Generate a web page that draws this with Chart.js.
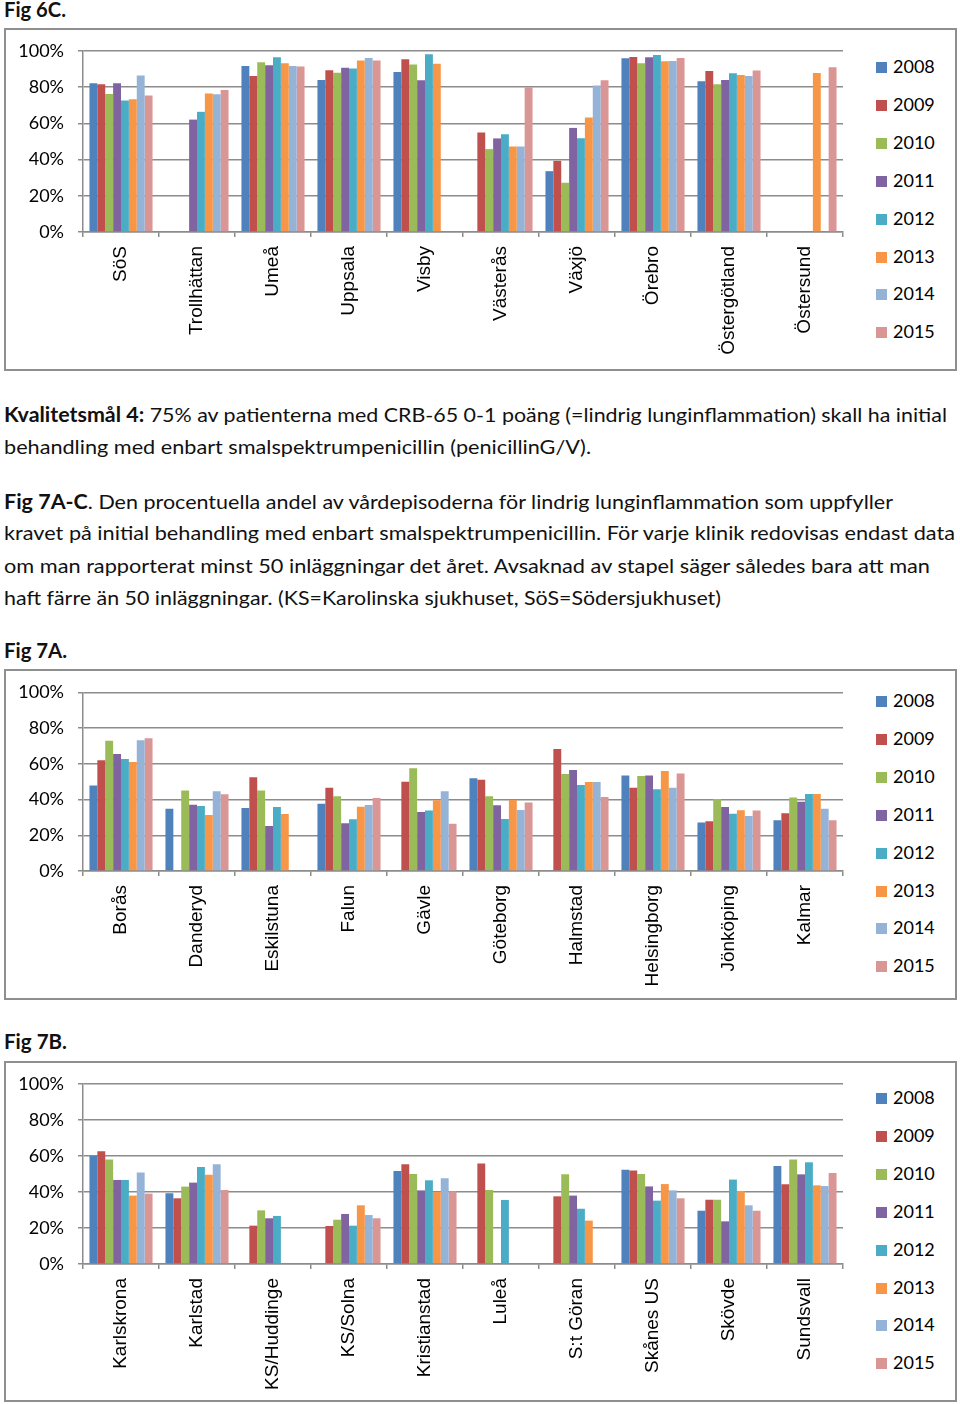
<!DOCTYPE html>
<html><head><meta charset="utf-8">
<script src="https://cdn.jsdelivr.net/npm/chart.js@4.4.0/dist/chart.umd.min.js"></script>
<style>
html,body{margin:0;padding:0;background:#fff;}
body{width:960px;height:1404px;position:relative;overflow:hidden;font-family:Lato,sans-serif;color:#000;}
.box{position:absolute;left:4px;width:949px;border:2px solid #8f8f8f;}
.ln{position:absolute;left:4px;font-size:20px;line-height:20px;white-space:nowrap;transform-origin:0 0;color:#111;}
.cv{position:absolute;left:6px;}
.lg{position:absolute;left:876px;font-size:18px;line-height:18px;white-space:nowrap;}
.lg span{display:inline-block;width:11px;height:11px;margin-right:6px;vertical-align:0px;}
</style>
</head><body>
<script>
// ---------- DATA ----------
const years = ['2008','2009','2010','2011','2012','2013','2014','2015'];
const colors = ['#4F81BD','#C0504D','#9BBB59','#8064A2','#4BACC6','#F79646','#95B3D7','#DA9694'];
const yTicks = [0,20,40,60,80,100];

// Fig 6C
const cats6C = ['SöS','Trollhättan','Umeå','Uppsala','Visby','Västerås','Växjö','Örebro','Östergötland','Östersund'];
const f6C_2008 = [82.2, null, 91.7, 84.0, 88.4, null, 33.6, 96.0, 83.3, null];
const f6C_2009 = [81.6, null, 86.2, 89.3, 95.4, 55.0, 39.3, 96.7, 89.0, null];
const f6C_2010 = [76.3, null, 93.8, 88.0, 92.5, 45.8, 27.2, 93.2, 81.6, null];
const f6C_2011 = [82.2, 62.1, 92.1, 90.8, 83.8, 51.7, 57.5, 96.5, 84.0, null];
const f6C_2012 = [72.6, 66.4, 96.5, 90.4, 98.2, 54.0, 51.8, 97.8, 87.7, null];
const f6C_2013 = [73.3, 76.5, 93.2, 94.7, 93.0, 47.2, 63.2, 94.3, 86.8, 87.9];
const f6C_2014 = [86.4, 76.1, 91.7, 96.1, null, 47.2, 81.0, 94.5, 86.2, null];
const f6C_2015 = [75.4, 78.5, 91.4, 94.7, null, 80.0, 83.8, 96.1, 89.2, 91.0];

// Fig 7A
const cats7A = ['Borås','Danderyd','Eskilstuna','Falun','Gävle','Göteborg','Halmstad','Helsingborg','Jönköping','Kalmar'];
const f7A_2008 = [47.8, 34.9, 35.3, 37.7, null, 51.9, null, 53.5, 27.1, 28.4];
const f7A_2009 = [62.0, null, 52.4, 46.6, 50.0, 51.1, 68.3, 46.6, 27.8, 32.3];
const f7A_2010 = [72.9, 45.1, 45.1, 41.8, 57.5, 41.8, 54.3, 53.2, 40.3, 41.2];
const f7A_2011 = [65.5, 37.1, 25.2, 26.7, 33.0, 36.8, 56.5, 53.5, 35.8, 38.8];
const f7A_2012 = [62.7, 36.4, 35.8, 28.9, 33.8, 29.1, 48.1, 45.7, 32.1, 43.1];
const f7A_2013 = [61.0, 31.3, 31.9, 36.0, 39.6, 39.7, 49.8, 56.0, 34.0, 43.1];
const f7A_2014 = [73.1, 44.6, null, 36.9, 44.6, 34.1, 49.8, 46.6, 30.8, 34.9];
const f7A_2015 = [74.3, 42.9, null, 40.9, 26.5, 38.4, 41.4, 54.5, 33.8, 28.4];

// Fig 7B
const cats7B = ['Karlskrona','Karlstad','KS/Huddinge','KS/Solna','Kristianstad','Luleå','S:t Göran','Skånes US','Skövde','Sundsvall'];
const f7B_2008 = [60.0, 39.3, null, null, 51.7, null, null, 52.4, 29.6, 54.4];
const f7B_2009 = [62.6, 36.5, 21.3, 21.1, 55.4, 55.9, 37.6, 51.9, 35.7, 44.3];
const f7B_2010 = [58.1, 43.0, 29.8, 24.6, 50.0, 41.1, 49.8, 50.0, 35.7, 58.0];
const f7B_2011 = [46.7, 45.2, 25.4, 27.8, 40.9, null, 38.0, 43.1, 23.7, 49.8];
const f7B_2012 = [46.7, 53.9, 26.7, 21.3, 46.5, 35.6, 30.7, 35.2, 46.9, 56.5];
const f7B_2013 = [38.0, 49.6, null, 32.6, 40.0, null, 24.1, 44.4, 40.6, 43.7];
const f7B_2014 = [50.9, 55.4, null, 27.2, 47.6, null, null, 40.9, 32.6, 43.3];
const f7B_2015 = [39.1, 41.1, null, 25.4, 40.4, null, null, 36.5, 29.6, 50.6];
</script>

<div class="ln" style="top:-1px;font-weight:bold" data-w="62">Fig 6C.</div>
<div class="box" style="top:28px;height:339px"></div>
<canvas id="c1" class="cv" style="top:30px" width="854" height="339"></canvas>

<div class="ln" style="top:404px" data-w="943"><b>Kvalitetsmål 4:</b> 75% av patienterna med CRB-65 0-1 poäng (=lindrig lunginflammation) skall ha initial</div>
<div class="ln" style="top:436px" data-w="587">behandling med enbart smalspektrumpenicillin (penicillinG/V).</div>
<div class="ln" style="top:491px" data-w="889"><b>Fig 7A-C</b>. Den procentuella andel av vårdepisoderna för lindrig lunginflammation som uppfyller</div>
<div class="ln" style="top:522px" data-w="951">kravet på initial behandling med enbart smalspektrumpenicillin. För varje klinik redovisas endast data</div>
<div class="ln" style="top:555px" data-w="926">om man rapporterat minst 50 inläggningar det året. Avsaknad av stapel säger således bara att man</div>
<div class="ln" style="top:587px" data-w="717">haft färre än 50 inläggningar. (KS=Karolinska sjukhuset, SöS=Södersjukhuset)</div>
<div class="ln" style="top:640px;font-weight:bold" data-w="63">Fig 7A.</div>
<div class="box" style="top:669px;height:327px"></div>
<canvas id="c2" class="cv" style="top:671px" width="854" height="327"></canvas>

<div class="ln" style="top:1031px;font-weight:bold" data-w="63">Fig 7B.</div>
<div class="box" style="top:1061px;height:337px"></div>
<canvas id="c3" class="cv" style="top:1063px" width="854" height="337"></canvas>

<div id="legends"></div>

<script>
// scale text lines to match reference widths
document.querySelectorAll('.ln').forEach(el => {
  const w = parseFloat(el.dataset.w);
  const cur = el.getBoundingClientRect().width;
  if (cur > 0) el.style.transform = 'scaleX(' + (w / cur) + ')';
});

// HTML legends
function legend(center) {
  const host = document.getElementById('legends');
  years.forEach((y, i) => {
    const d = document.createElement('div');
    d.className = 'lg';
    d.style.top = (center + i * 37.9 - 9) + 'px';
    d.innerHTML = '<span style="background:' + colors[i] + '"></span>' + y;
    host.appendChild(d);
  });
}
legend(66);
legend(700);
legend(1097);

const GRID = '#8c8c8c';
function makeChart(id, cats, series, plotTop, plotBottom, canvasH) {
  new Chart(document.getElementById(id), {
    type: 'bar',
    data: {
      labels: cats,
      datasets: series.map((s, i) => ({
        label: years[i], data: s, backgroundColor: colors[i],
        borderWidth: 0, categoryPercentage: 0.83, barPercentage: 1.0
      }))
    },
    options: {
      responsive: false, animation: false,
      layout: { padding: { top: plotTop, right: 17, left: 0, bottom: 0 } },
      plugins: { legend: { display: false }, tooltip: { enabled: false } },
      scales: {
        x: {
          afterFit: s => { s.height = canvasH - plotBottom; s.paddingLeft = 0; s.paddingRight = 0; },
          grid: { display: true, drawOnChartArea: false, drawTicks: true, tickLength: 5, color: GRID, lineWidth: 1.5, offset: true },
          border: { display: true, color: GRID, width: 1.5 },
          ticks: { autoSkip: false, maxRotation: 90, minRotation: 90, padding: 9, color: '#000',
                   font: { family: 'Liberation Sans', size: 19 } }
        },
        y: {
          min: 0, max: 100,
          afterFit: s => { s.width = 77; s.paddingTop = 0; s.paddingBottom = 0; },
          afterBuildTicks: s => { s.ticks = yTicks.map(v => ({ value: v })); },
          grid: { color: GRID, lineWidth: 1.5, tickLength: 5 },
          border: { display: true, color: GRID, width: 1.5 },
          ticks: { padding: 14, color: '#000', font: { family: 'Lato', size: 18 },
                   callback: v => v + '%' }
        }
      }
    }
  });
}

makeChart('c1', cats6C, [f6C_2008,f6C_2009,f6C_2010,f6C_2011,f6C_2012,f6C_2013,f6C_2014,f6C_2015], 21, 202, 339);
makeChart('c2', cats7A, [f7A_2008,f7A_2009,f7A_2010,f7A_2011,f7A_2012,f7A_2013,f7A_2014,f7A_2015], 21.3, 200, 327);
makeChart('c3', cats7B, [f7B_2008,f7B_2009,f7B_2010,f7B_2011,f7B_2012,f7B_2013,f7B_2014,f7B_2015], 21, 201, 337);
</script>
</body></html>
